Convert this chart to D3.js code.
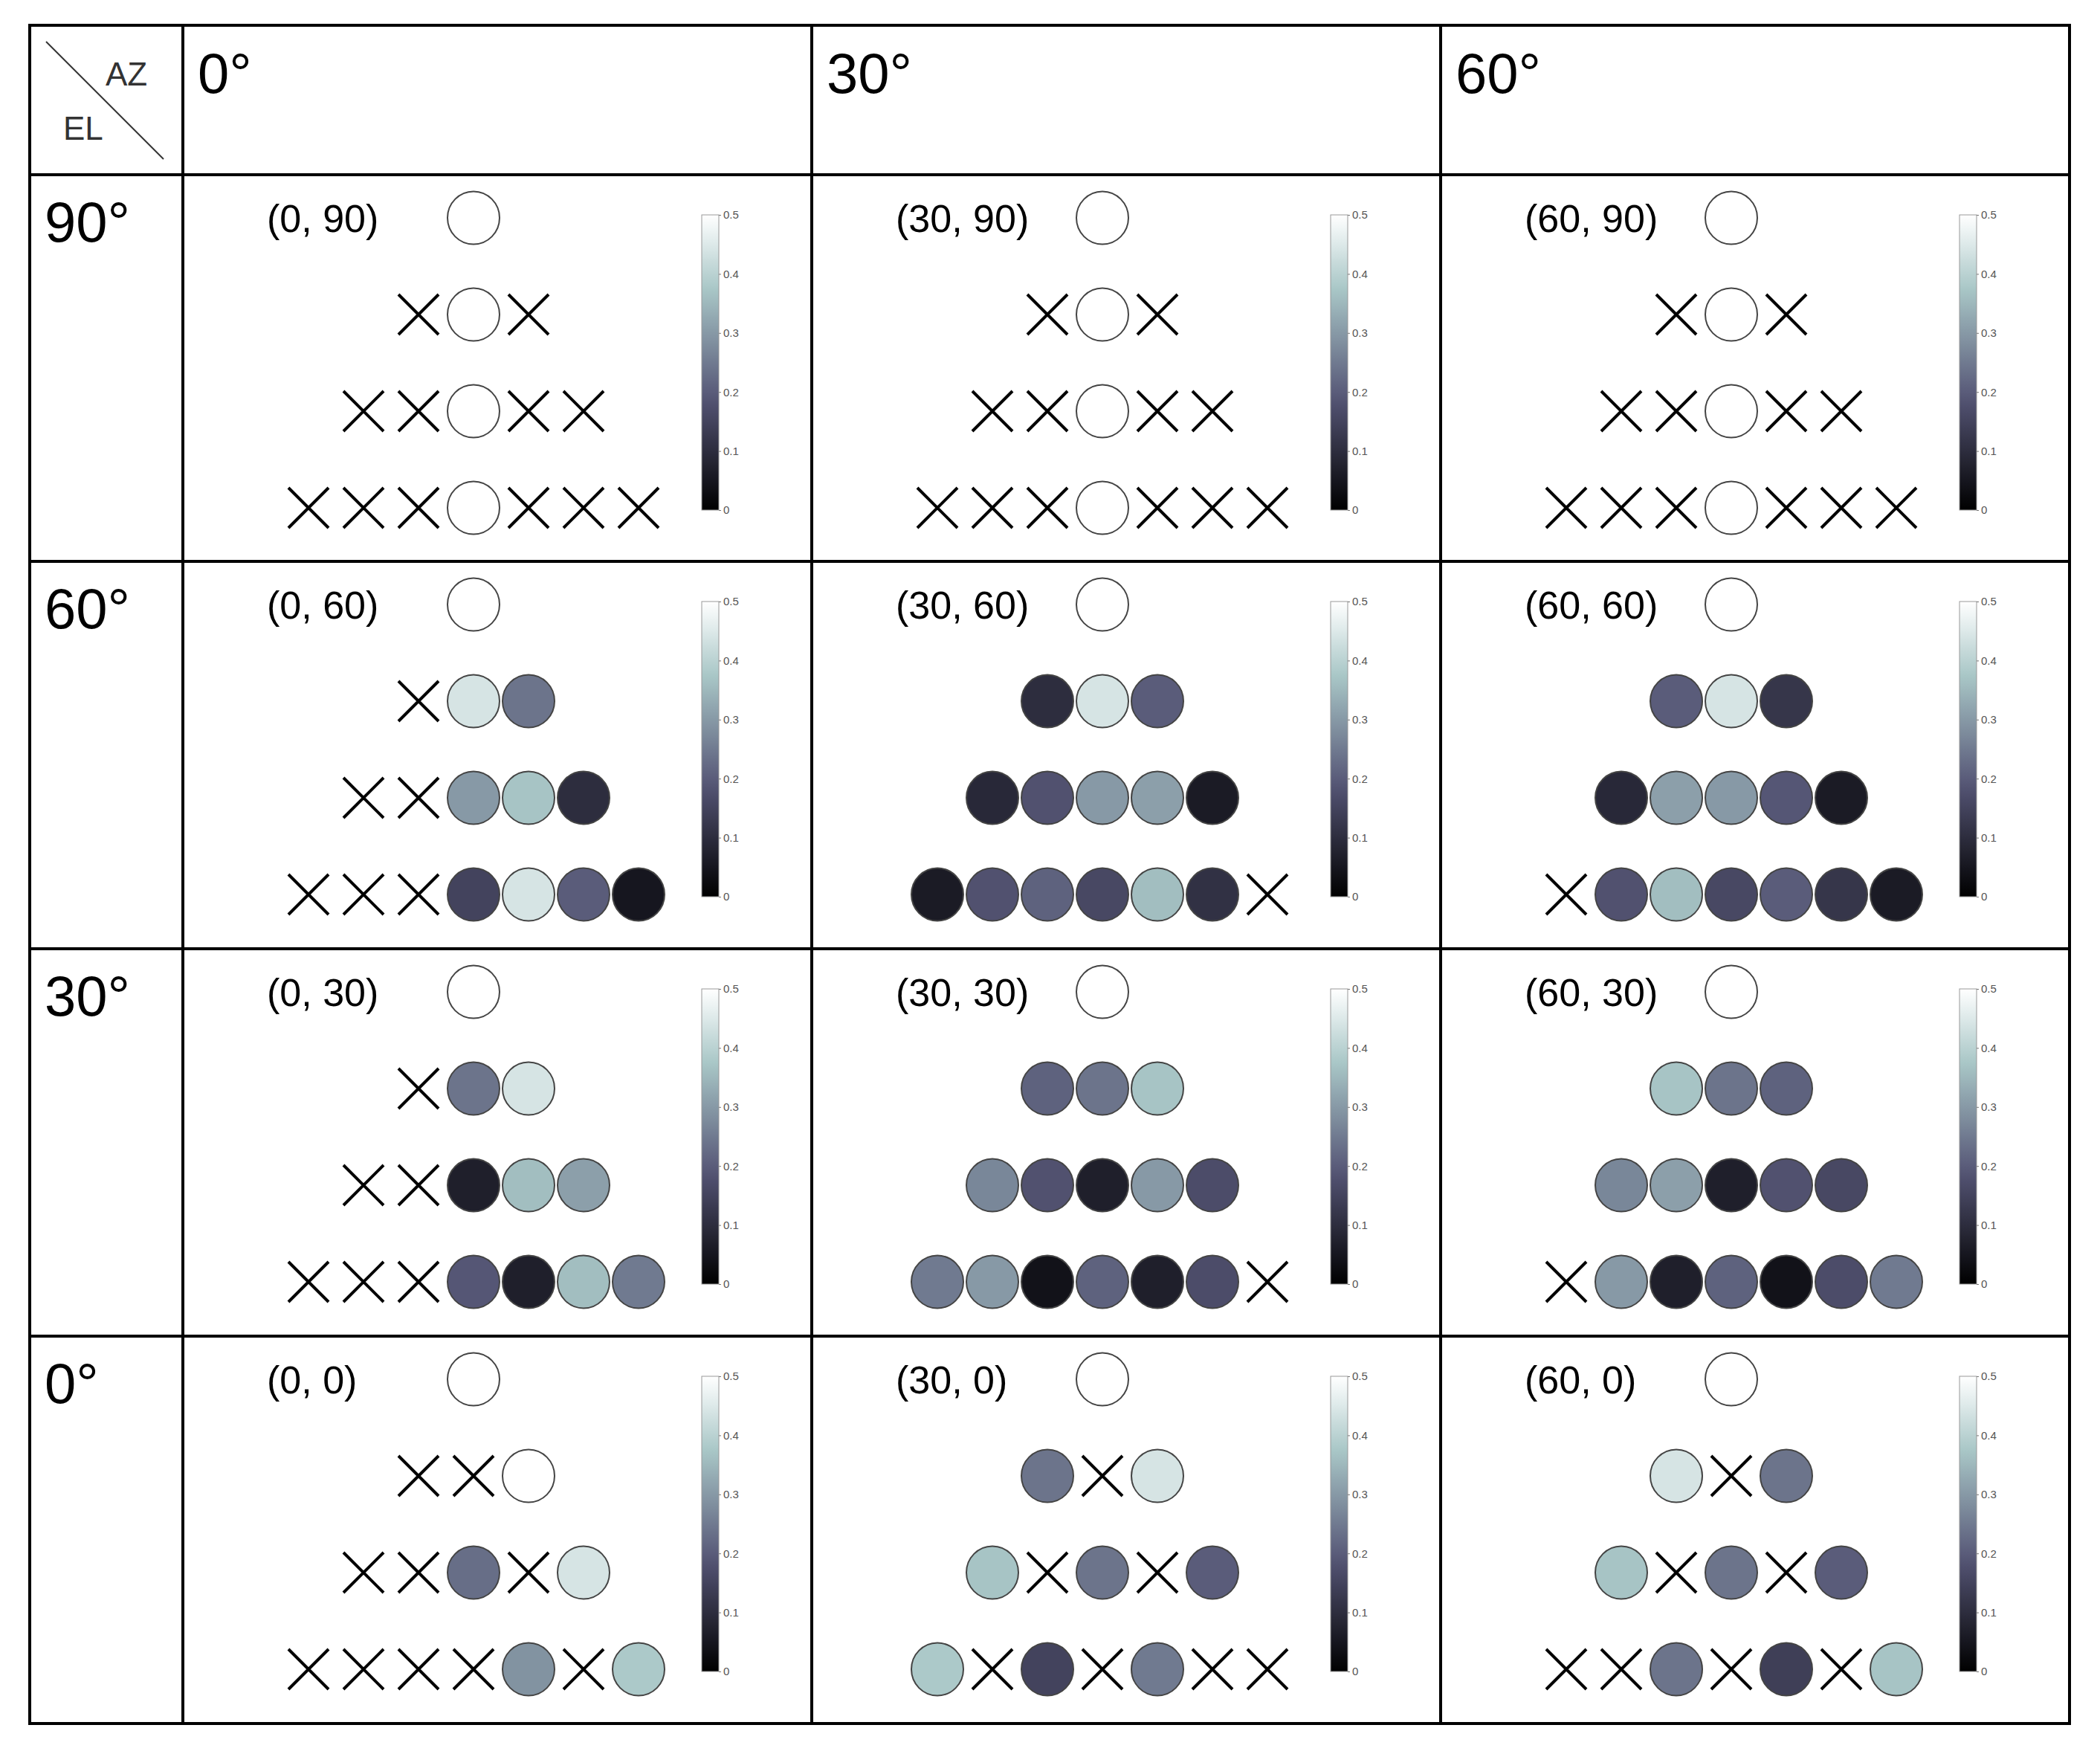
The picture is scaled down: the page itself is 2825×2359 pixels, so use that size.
<!DOCTYPE html>
<html><head><meta charset="utf-8">
<script src="https://cdn.jsdelivr.net/npm/d3@7"></script>
<style>body{margin:0;background:#fff}</style></head>
<body><svg id="c" width="2825" height="2359"></svg>
<script>
const azLabels=["0°","30°","60°"];
const elLabels=["90°","60°","30°","0°"];
const elValues=[90,60,30,0];
const azValues=[0,30,60];
const cbTicks=[0,0.1,0.2,0.3,0.4,0.5];
const X=null;
const grid90=[[0.5],[X,0.5,X],[X,X,0.5,X,X],[X,X,X,0.5,X,X,X]];
const az0el60=[[0.5],[X,0.44,0.24],[X,X,0.3,0.37,0.1],[X,X,X,0.15,0.44,0.2,0.05]];
const az30el60=[[0.5],[0.1,0.44,0.2],[0.09,0.18,0.3,0.31,0.06],[0.06,0.18,0.21,0.16,0.36,0.11,X]];
const az60el60=[[0.5],[0.2,0.44,0.12],[0.09,0.31,0.3,0.19,0.06],[X,0.18,0.36,0.16,0.2,0.12,0.06]];
const az0el30=[[0.5],[X,0.24,0.44],[X,X,0.07,0.36,0.31],[X,X,X,0.19,0.07,0.36,0.25]];
const az30el30=[[0.5],[0.21,0.24,0.37],[0.27,0.18,0.07,0.3,0.17],[0.25,0.3,0.04,0.21,0.07,0.17,X]];
const az60el30=[[0.5],[0.37,0.24,0.21],[0.27,0.31,0.07,0.18,0.16],[X,0.3,0.07,0.21,0.04,0.17,0.25]];
const az0el0=[[0.5],[X,X,0.5],[X,X,0.23,X,0.44],[X,X,X,X,0.29,X,0.38]];
const az30el0=[[0.5],[0.24,X,0.44],[0.37,X,0.24,X,0.2],[0.38,X,0.15,X,0.25,X,X]];
const az60el0=[[0.5],[0.44,X,0.24],[0.37,X,0.24,X,0.2],[X,X,0.24,X,0.14,X,0.37]];
const cells=[[grid90,grid90,grid90],[az0el60,az30el60,az60el60],[az0el30,az30el30,az60el30],[az0el0,az30el0,az60el0]];

const svg=d3.select("#c");
const colX=[40,246,1092,1938,2784];
const rowY=[34,235,755,1276,1797,2318];
const bone=d3.scaleLinear().domain([0,0.375,0.75,1]).range(["#000000","#545474","#a9c7c7","#ffffff"]);
const col=v=>bone(v/0.5);
const defs=svg.append("defs");
const gr=defs.append("linearGradient").attr("id","cb").attr("x1",0).attr("y1",1).attr("x2",0).attr("y2",0);
d3.range(0,1.001,0.05).forEach(t=>gr.append("stop").attr("offset",t).attr("stop-color",bone(t)));

const g=svg.append("g");
g.append("rect").attr("x",colX[0]).attr("y",rowY[0]).attr("width",colX[4]-colX[0]).attr("height",rowY[5]-rowY[0]).attr("fill","none").attr("stroke","#000").attr("stroke-width",4);
colX.slice(1,4).forEach(x=>g.append("line").attr("x1",x).attr("x2",x).attr("y1",rowY[0]).attr("y2",rowY[5]).attr("stroke","#000").attr("stroke-width",4));
rowY.slice(1,5).forEach(y=>g.append("line").attr("x1",colX[0]).attr("x2",colX[4]).attr("y1",y).attr("y2",y).attr("stroke","#000").attr("stroke-width",4));
g.append("line").attr("x1",62).attr("y1",56).attr("x2",220).attr("y2",214).attr("stroke","#333").attr("stroke-width",2);
g.append("text").attr("x",142).attr("y",115).attr("font-family","Liberation Sans, Arial").attr("font-size",44).attr("fill","#333").text("AZ");
g.append("text").attr("x",85).attr("y",188).attr("font-family","Liberation Sans, Arial").attr("font-size",44).attr("fill","#333").text("EL");
azLabels.forEach((t,i)=>g.append("text").attr("x",colX[i+1]+20).attr("y",125).attr("font-family","Liberation Sans, Arial").attr("font-size",76).text(t));
elLabels.forEach((t,i)=>g.append("text").attr("x",60).attr("y",rowY[i+1]+90).attr("font-family","Liberation Sans, Arial").attr("font-size",76).text(t));

cells.forEach((rowCells,r)=>rowCells.forEach((data,c)=>{
  const x0=colX[c+1], y0=rowY[r+1];
  const cg=svg.append("g").attr("transform",`translate(${x0},${y0})`);
  const xs=d3.scaleLinear().domain([-3,3]).range([391-222,391+222]);
  const ys=d3.scaleLinear().domain([0,3]).range([58,448]);
  cg.append("text").attr("x",113).attr("y",77).attr("font-family","Liberation Sans, Arial").attr("font-size",52).text(`(${azValues[c]}, ${elValues[r]})`);
  data.forEach((rowv,ri)=>{
    const n=rowv.length, off=(n-1)/2;
    rowv.forEach((v,k)=>{
      const cx=xs(k-off), cy=ys(ri);
      if(v===null){
        const h=27;
        cg.append("path").attr("d",`M${cx-h},${cy-h}L${cx+h},${cy+h}M${cx-h},${cy+h}L${cx+h},${cy-h}`).attr("stroke","#000").attr("stroke-width",4).attr("fill","none");
      } else {
        cg.append("ellipse").attr("cx",cx).attr("cy",cy).attr("rx",35).attr("ry",35.5).attr("fill",col(v)).attr("stroke","#444").attr("stroke-width",2);
      }
    });
  });
  const cy=d3.scaleLinear().domain([0,0.5]).range([451,54]);
  cg.append("rect").attr("x",698).attr("y",54).attr("width",23).attr("height",397).attr("fill","url(#cb)").attr("stroke","#999").attr("stroke-width",1);
  const ax=cg.append("g").attr("transform","translate(721,0)").call(d3.axisRight(cy).tickValues(cbTicks).tickSize(3).tickFormat(d=>d===0?"0":d3.format(".1f")(d)));
  ax.select(".domain").remove();
  ax.selectAll("text").attr("font-size",15).attr("fill","#555").attr("font-family","Liberation Sans, Arial");
  ax.selectAll("line").attr("stroke","#777");
}));
</script></body></html>
